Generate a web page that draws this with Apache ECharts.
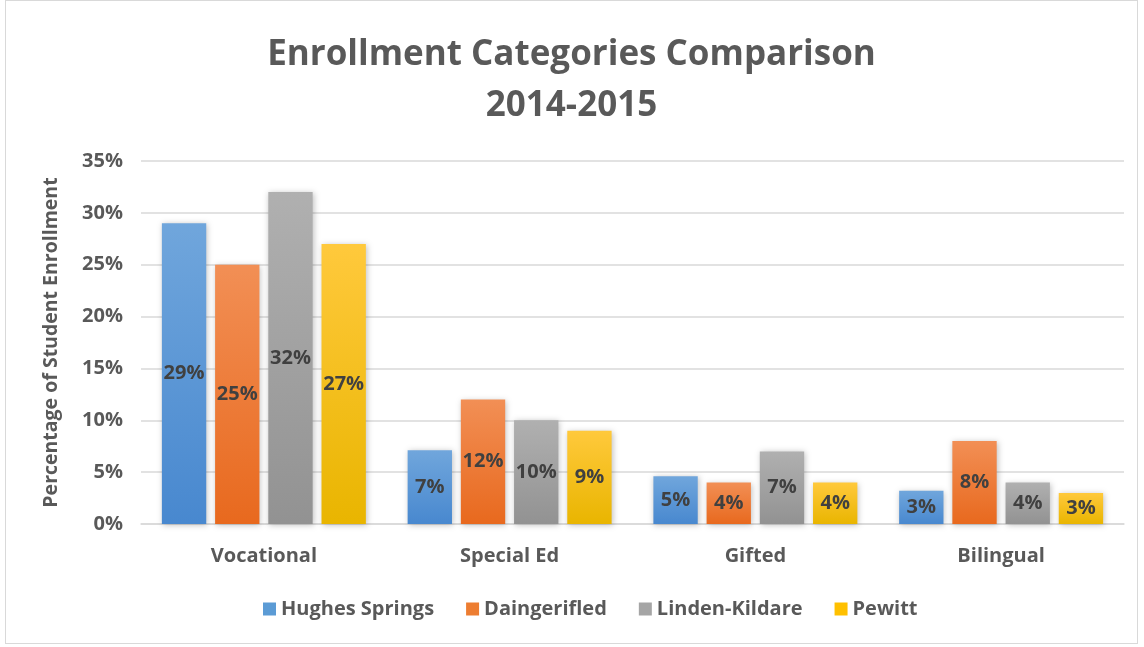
<!DOCTYPE html>
<html>
<head>
<meta charset="utf-8">
<script src="https://cdn.jsdelivr.net/npm/echarts@6/dist/echarts.min.js"></script>
<style>
  html, body { margin: 0; padding: 0; background: #fff; }
  #main { position: absolute; left: 5px; top: 0; width: 1133px; height: 644px; border: 1px solid #d9d9d9; box-sizing: border-box; }
</style>
</head>
<body>
<div id="main"></div>
<script>
// categories and series values (percent)
const categories = ['Vocational', 'Special Ed', 'Gifted', 'Bilingual']
const hughesSprings = [29, 7.1, 4.6, 3.2]
const daingerfield = [25, 12, 4, 8]
const lindenKildare = [32, 10, 7, 4]
const pewitt = [27, 9, 4, 3]
const seriesNames = ['Hughes Springs', 'Daingerifled', 'Linden-Kildare', 'Pewitt']
// gradient colours top -> bottom
const colorStops = [
  ['#70a6dc', '#4888cf'],
  ['#f28f55', '#e8691e'],
  ['#b0b0b0', '#929292'],
  ['#ffc93c', '#e9b500']
]
const legendColors = ['#5b9bd5', '#ed7d31', '#a5a5a5', '#ffc000']

const myChart = echarts.init(document.getElementById('main'))
const font = '"Open Sans", "Noto Sans", sans-serif'
const textColor = '#595959'

const allData = [hughesSprings, daingerfield, lindenKildare, pewitt]
const series = []
for (let i = 0; i < allData.length; i++) {
  series.push({
    name: seriesNames[i],
    type: 'bar',
    data: allData[i],
    barGap: '20%',
    barCategoryGap: '17%',
    itemStyle: {
      color: new echarts.graphic.LinearGradient(0, 0, 0, 1, [
        { offset: 0, color: colorStops[i][0] },
        { offset: 1, color: colorStops[i][1] }
      ]),
      shadowColor: 'rgba(0,0,0,0.25)',
      shadowBlur: 6,
      shadowOffsetX: 1,
      shadowOffsetY: 1
    },
    label: {
      show: true,
      position: 'inside',
      color: '#404040',
      fontFamily: font,
      fontWeight: 'bold',
      fontSize: 20,
      formatter: function (p) { return Math.round(p.value) + '%' }
    }
  })
}

const option = {
  animation: false,
  title: {
    text: 'Enrollment Categories Comparison\n2014-2015',
    left: 'center',
    top: 24,
    textStyle: {
      color: textColor,
      fontFamily: font,
      fontWeight: 'bold',
      fontSize: 35,
      lineHeight: 51
    }
  },
  legend: {
    bottom: 19,
    left: 252,
    itemWidth: 13,
    itemHeight: 13,
    itemGap: 32,
    icon: 'rect',
    data: seriesNames.map(function (n, i) {
      return { name: n, itemStyle: { color: legendColors[i] } }
    }),
    textStyle: { color: textColor, fontFamily: font, fontWeight: 'bold', fontSize: 20 }
  },
  grid: { left: 135, right: 13, top: 160, bottom: 119 },
  xAxis: {
    type: 'category',
    data: categories,
    axisLine: { lineStyle: { color: '#d9d9d9', width: 1.5 } },
    axisTick: { show: false },
    axisLabel: { color: textColor, fontFamily: font, fontWeight: 'bold', fontSize: 20, margin: 22 }
  },
  yAxis: {
    type: 'value',
    min: 0,
    max: 35,
    interval: 5,
    name: 'Percentage of Student Enrollment',
    nameLocation: 'middle',
    nameGap: 80,
    nameTextStyle: { color: textColor, fontFamily: font, fontWeight: 'bold', fontSize: 19.5 },
    axisLine: { show: false },
    axisTick: { show: false },
    axisLabel: {
      color: textColor, fontFamily: font, fontWeight: 'bold', fontSize: 20, margin: 18,
      formatter: '{value}%'
    },
    splitLine: { lineStyle: { color: '#d9d9d9', width: 1.5 } }
  },
  series: series
}
myChart.setOption(option, true)
</script>
</body>
</html>
